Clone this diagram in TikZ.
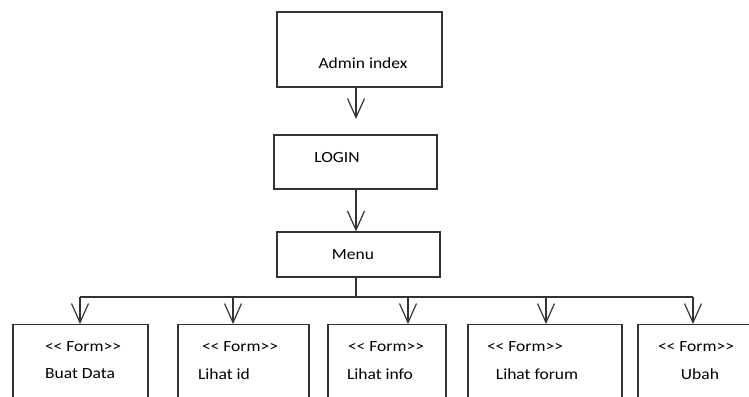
\documentclass[tikz,border=0pt]{standalone}
\usepackage{fontspec}
\setmainfont{Carlito}[FakeStretch=1.13]
\usetikzlibrary{arrows.meta}
\newcommand{\frm}{{<}{<} Form{>}{>}}
\begin{document}
\begin{tikzpicture}[x=1pt,y=-1pt,
  ln/.style={draw=black!80, line width=1.2pt},
  box/.style={ln, rectangle, inner sep=0pt},
  lbl/.style={font=\fontsize{15.5}{18}\selectfont, text=black, inner sep=0pt},
  arr/.style={ln, -{Straight Barb[length=19pt,width=17pt,line width=1.2pt]}}]
\useasboundingbox (0,0) rectangle (749,396);
\clip (0,0) rectangle (749,396);
% top chain
\node[box, minimum width=165pt, minimum height=75pt] (admin) at (359.5,49.5) {};
\node[box, minimum width=163pt, minimum height=54pt] (login) at (355.5,162) {};
\node[box, minimum width=163pt, minimum height=45pt] (menu) at (358.5,254.5) {};
\node[lbl] (admint) at (363,63) {Admin index};
\node[lbl] (logint) at (337,158) {LOGIN};
\node[lbl] (menut) at (353,255) {Menu};
\coordinate (a1) at (356,119);
\draw[arr] (admin.south -| a1) -- (a1);
\draw[arr] (login.south -| a1) -- (menu.north -| a1);
% form boxes
\node[box, minimum width=135pt, minimum height=90pt, anchor=north] (f1) at (80.5,324) {};
\node[box, minimum width=131pt, minimum height=90pt, anchor=north] (f2) at (243.5,324) {};
\node[box, minimum width=118pt, minimum height=90pt, anchor=north] (f3) at (387,324) {};
\node[box, minimum width=154pt, minimum height=90pt, anchor=north] (f4) at (545,324) {};
\node[box, minimum width=122pt, minimum height=90pt, anchor=north] (f5) at (699,324) {};
% form texts
\node[lbl] (f1a) at (83,347) {\frm};
\node[lbl] (f1b) at (80,374) {Buat Data};
\node[lbl] (f2a) at (240,347) {\frm};
\node[lbl] (f2b) at (224,374) {Lihat id};
\node[lbl] (f3a) at (386,347) {\frm};
\node[lbl] (f3b) at (380,374) {Lihat info};
\node[lbl] (f4a) at (525,347) {\frm};
\node[lbl] (f4b) at (537,374) {Lihat forum};
\node[lbl] (f5a) at (696,347) {\frm};
\node[lbl] (f5b) at (700,374) {Ubah};
% branch
\coordinate (hub) at (356,297);
\coordinate (b1) at (80,297);
\coordinate (b2) at (233,297);
\coordinate (b3) at (408,297);
\coordinate (b4) at (546,297);
\coordinate (b5) at (693,297);
\draw[ln] (menu.south -| hub) -- (hub);
\draw[ln] (b1) -- (b5);
\draw[arr] (b1) -- (b1 |- f1.north);
\draw[arr] (b2) -- (b2 |- f2.north);
\draw[arr] (b3) -- (b3 |- f3.north);
\draw[arr] (b4) -- (b4 |- f4.north);
\draw[arr] (b5) -- (b5 |- f5.north);
\end{tikzpicture}
\end{document}
